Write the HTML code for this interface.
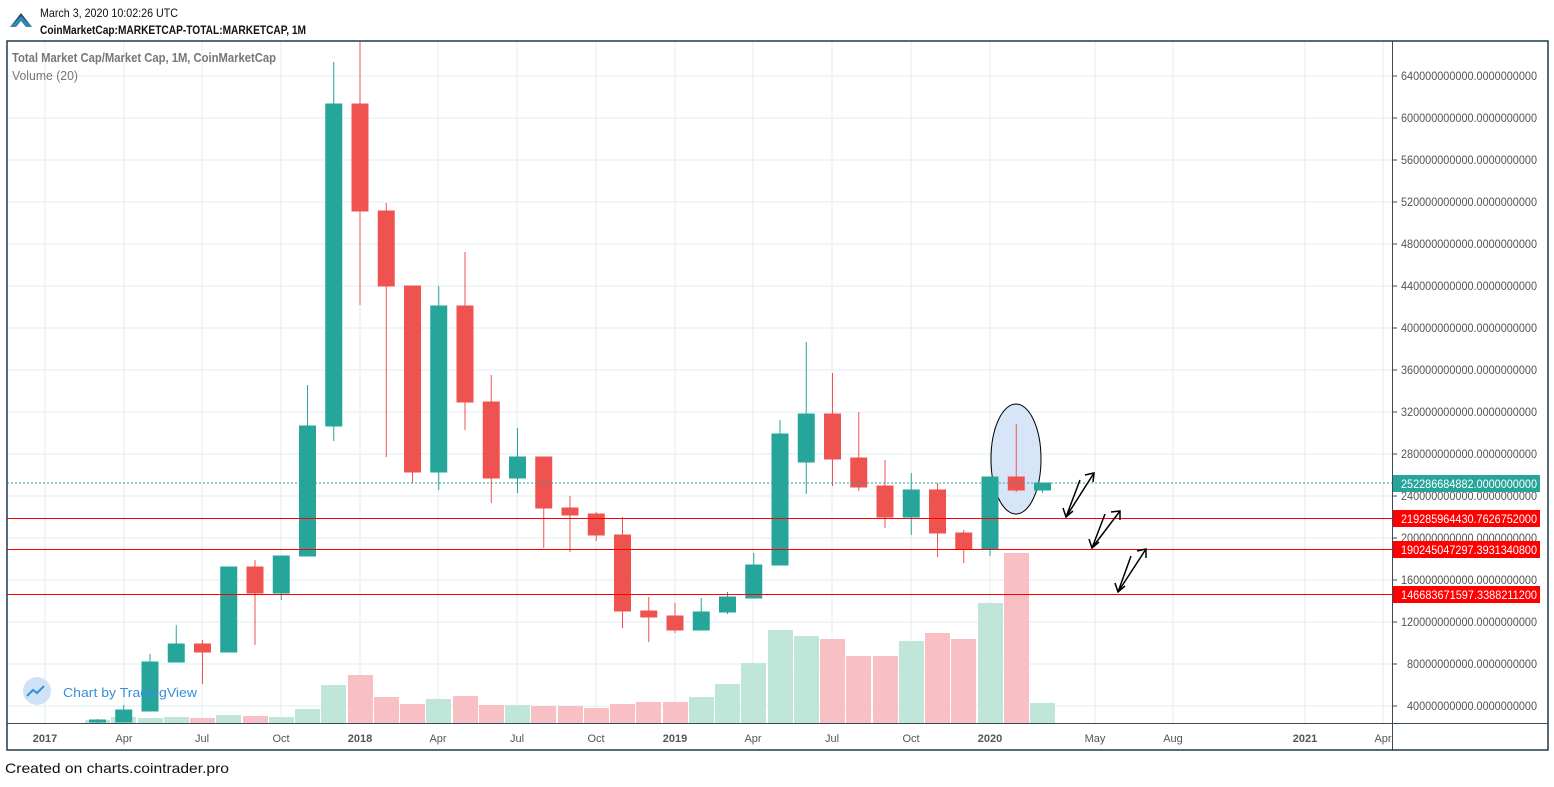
<!DOCTYPE html>
<html><head><meta charset="utf-8"><style>
html,body{margin:0;padding:0;background:#fff;}
body{width:1554px;height:782px;overflow:hidden;font-family:"Liberation Sans",sans-serif;}
</style></head><body>
<svg width="1554" height="782" xmlns="http://www.w3.org/2000/svg" font-family="Liberation Sans, sans-serif">
<rect width="1554" height="782" fill="#fff"/>
<polygon points="10,27 21,13 32,27 26,27 21,21 16,27" fill="#1e4e6e"/>
<polygon points="10,27 16,27 21,21 26,27 32,27 21,16" fill="#3aa0d0" opacity="0.7"/>
<text x="40" y="17" font-size="12" fill="#111" textLength="138" lengthAdjust="spacingAndGlyphs">March 3, 2020 10:02:26 UTC</text>
<text x="40" y="34" font-size="12" font-weight="bold" fill="#111" textLength="266" lengthAdjust="spacingAndGlyphs">CoinMarketCap:MARKETCAP-TOTAL:MARKETCAP, 1M</text>
<g stroke="#e1ecf2" stroke-width="1">
<line x1="45" y1="41" x2="45" y2="723"/><line x1="124" y1="41" x2="124" y2="723"/><line x1="202" y1="41" x2="202" y2="723"/><line x1="281" y1="41" x2="281" y2="723"/><line x1="360" y1="41" x2="360" y2="723"/><line x1="438" y1="41" x2="438" y2="723"/><line x1="517" y1="41" x2="517" y2="723"/><line x1="596" y1="41" x2="596" y2="723"/><line x1="675" y1="41" x2="675" y2="723"/><line x1="753" y1="41" x2="753" y2="723"/><line x1="832" y1="41" x2="832" y2="723"/><line x1="911" y1="41" x2="911" y2="723"/><line x1="990" y1="41" x2="990" y2="723"/><line x1="1095" y1="41" x2="1095" y2="723"/><line x1="1173" y1="41" x2="1173" y2="723"/><line x1="1305" y1="41" x2="1305" y2="723"/><line x1="1383" y1="41" x2="1383" y2="723"/>
<line x1="7" y1="76" x2="1392" y2="76"/><line x1="7" y1="118" x2="1392" y2="118"/><line x1="7" y1="160" x2="1392" y2="160"/><line x1="7" y1="202" x2="1392" y2="202"/><line x1="7" y1="244" x2="1392" y2="244"/><line x1="7" y1="286" x2="1392" y2="286"/><line x1="7" y1="328" x2="1392" y2="328"/><line x1="7" y1="370" x2="1392" y2="370"/><line x1="7" y1="412" x2="1392" y2="412"/><line x1="7" y1="454" x2="1392" y2="454"/><line x1="7" y1="496" x2="1392" y2="496"/><line x1="7" y1="538" x2="1392" y2="538"/><line x1="7" y1="580" x2="1392" y2="580"/><line x1="7" y1="622" x2="1392" y2="622"/><line x1="7" y1="664" x2="1392" y2="664"/><line x1="7" y1="706" x2="1392" y2="706"/>
</g>
<g>
<g fill="#bfe6d8">
<rect x="85" y="720" width="25" height="3"/><rect x="111" y="717" width="25" height="6"/><rect x="138" y="718" width="25" height="5"/><rect x="164" y="717" width="25" height="6"/><rect x="216" y="715" width="25" height="8"/><rect x="269" y="717" width="25" height="6"/><rect x="295" y="709" width="25" height="14"/><rect x="321" y="685" width="25" height="38"/><rect x="426" y="699" width="25" height="24"/><rect x="505" y="705" width="25" height="18"/><rect x="689" y="697" width="25" height="26"/><rect x="715" y="684" width="25" height="39"/><rect x="741" y="663" width="25" height="60"/><rect x="768" y="630" width="25" height="93"/><rect x="794" y="636" width="25" height="87"/><rect x="899" y="641" width="25" height="82"/><rect x="978" y="603" width="25" height="120"/><rect x="1030" y="703" width="25" height="20"/>
</g>
<g fill="#f8c0c4">
<rect x="190" y="718" width="25" height="5"/><rect x="243" y="716" width="25" height="7"/><rect x="348" y="675" width="25" height="48"/><rect x="374" y="697" width="25" height="26"/><rect x="400" y="704" width="25" height="19"/><rect x="453" y="696" width="25" height="27"/><rect x="479" y="705" width="25" height="18"/><rect x="531" y="706" width="25" height="17"/><rect x="558" y="706" width="25" height="17"/><rect x="584" y="708" width="25" height="15"/><rect x="610" y="704" width="25" height="19"/><rect x="636" y="702" width="25" height="21"/><rect x="663" y="702" width="25" height="21"/><rect x="820" y="639" width="25" height="84"/><rect x="846" y="656" width="25" height="67"/><rect x="873" y="656" width="25" height="67"/><rect x="925" y="633" width="25" height="90"/><rect x="951" y="639" width="25" height="84"/><rect x="1004" y="553" width="25" height="170"/>
</g>
</g>
<ellipse cx="1016" cy="459" rx="25" ry="55" fill="#d6e6f8" stroke="#000" stroke-width="1"/>
<g stroke-width="1">
<g stroke="#26a69a" fill="#26a69a">
<line x1="97.5" y1="719" x2="97.5" y2="723"/><rect x="89.5" y="720" width="16" height="2"/>
<line x1="123.75" y1="705" x2="123.75" y2="722"/><rect x="115.75" y="710" width="16" height="12"/>
<line x1="150" y1="654" x2="150" y2="711"/><rect x="142" y="662" width="16" height="49"/>
<line x1="176.25" y1="625" x2="176.25" y2="662"/><rect x="168.25" y="644" width="16" height="18"/>
<line x1="228.75" y1="567" x2="228.75" y2="652"/><rect x="220.75" y="567" width="16" height="85"/>
<line x1="281.25" y1="556" x2="281.25" y2="600"/><rect x="273.25" y="556" width="16" height="37"/>
<line x1="307.5" y1="385" x2="307.5" y2="556"/><rect x="299.5" y="426" width="16" height="130"/>
<line x1="333.75" y1="62" x2="333.75" y2="441"/><rect x="325.75" y="104" width="16" height="322"/>
<line x1="438.75" y1="286" x2="438.75" y2="490"/><rect x="430.75" y="306" width="16" height="166"/>
<line x1="517.5" y1="428" x2="517.5" y2="493"/><rect x="509.5" y="457" width="16" height="21"/>
<line x1="701.25" y1="598" x2="701.25" y2="630"/><rect x="693.25" y="612" width="16" height="18"/>
<line x1="727.5" y1="592" x2="727.5" y2="614"/><rect x="719.5" y="597" width="16" height="15"/>
<line x1="753.75" y1="553" x2="753.75" y2="598"/><rect x="745.75" y="565" width="16" height="33"/>
<line x1="780" y1="420" x2="780" y2="565"/><rect x="772" y="434" width="16" height="131"/>
<line x1="806.25" y1="342" x2="806.25" y2="494"/><rect x="798.25" y="414" width="16" height="48"/>
<line x1="911.25" y1="473" x2="911.25" y2="535"/><rect x="903.25" y="490" width="16" height="27"/>
<line x1="990" y1="477" x2="990" y2="556"/><rect x="982" y="477" width="16" height="72"/>
<line x1="1042.5" y1="483" x2="1042.5" y2="493"/><rect x="1034.5" y="483" width="16" height="7"/>
</g>
<g stroke="#ef5350" fill="#ef5350">
<line x1="202.5" y1="640" x2="202.5" y2="684"/><rect x="194.5" y="644" width="16" height="8"/>
<line x1="255" y1="560" x2="255" y2="645"/><rect x="247" y="567" width="16" height="26"/>
<line x1="360" y1="42" x2="360" y2="305"/><rect x="352" y="104" width="16" height="107"/>
<line x1="386.25" y1="203" x2="386.25" y2="457"/><rect x="378.25" y="211" width="16" height="75"/>
<line x1="412.5" y1="286" x2="412.5" y2="483"/><rect x="404.5" y="286" width="16" height="186"/>
<line x1="465" y1="252" x2="465" y2="430"/><rect x="457" y="306" width="16" height="96"/>
<line x1="491.25" y1="375" x2="491.25" y2="503"/><rect x="483.25" y="402" width="16" height="76"/>
<line x1="543.75" y1="457" x2="543.75" y2="548"/><rect x="535.75" y="457" width="16" height="51"/>
<line x1="570" y1="496" x2="570" y2="552"/><rect x="562" y="508" width="16" height="7"/>
<line x1="596.25" y1="512" x2="596.25" y2="541"/><rect x="588.25" y="514" width="16" height="21"/>
<line x1="622.5" y1="517" x2="622.5" y2="628"/><rect x="614.5" y="535" width="16" height="76"/>
<line x1="648.75" y1="597" x2="648.75" y2="642"/><rect x="640.75" y="611" width="16" height="6"/>
<line x1="675" y1="603" x2="675" y2="633"/><rect x="667" y="616" width="16" height="14"/>
<line x1="832.5" y1="373" x2="832.5" y2="486"/><rect x="824.5" y="414" width="16" height="45"/>
<line x1="858.75" y1="412" x2="858.75" y2="491"/><rect x="850.75" y="458" width="16" height="29"/>
<line x1="885" y1="460" x2="885" y2="528"/><rect x="877" y="486" width="16" height="31"/>
<line x1="937.5" y1="483" x2="937.5" y2="557"/><rect x="929.5" y="490" width="16" height="43"/>
<line x1="963.75" y1="530" x2="963.75" y2="563"/><rect x="955.75" y="533" width="16" height="16"/>
<line x1="1016.25" y1="424" x2="1016.25" y2="492"/><rect x="1008.25" y="477" width="16" height="13"/>
</g>
</g>
<line x1="7" y1="483" x2="1392" y2="483" stroke="#26a69a" stroke-dasharray="2,2"/>
<line x1="7" y1="518.5" x2="1392" y2="518.5" stroke="#ff0000"/>
<line x1="7" y1="549.5" x2="1392" y2="549.5" stroke="#ff0000"/>
<line x1="7" y1="594.5" x2="1392" y2="594.5" stroke="#ff0000"/>
<g stroke="#000" stroke-width="1.5" fill="none">
<polyline points="1080,480 1066,517 1094,473"/><polyline points="1085,475 1094,473 1093,482"/><polyline points="1063,508 1066,517 1073,511"/>
<polyline points="1105,514 1092,548 1120,511"/><polyline points="1111,512 1120,511 1120,520"/><polyline points="1089,539 1092,548 1099,542"/>
<polyline points="1131,556 1118,592 1146,549"/><polyline points="1137,551 1146,549 1146,558"/><polyline points="1115,583 1118,592 1125,586"/>
</g>
<text x="12" y="62" font-size="13" font-weight="bold" fill="#777" textLength="264" lengthAdjust="spacingAndGlyphs">Total Market Cap/Market Cap, 1M, CoinMarketCap</text>
<text x="12" y="80" font-size="13" fill="#777" textLength="66" lengthAdjust="spacingAndGlyphs">Volume (20)</text>
<circle cx="37" cy="691" r="14" fill="#cfe3f6"/>
<path d="M27,696 l6,-6 l4,3 l7,-7" stroke="#3a8ddc" stroke-width="2" fill="none"/>
<text x="63" y="697" font-size="13" fill="#3a8ddc" textLength="134" lengthAdjust="spacingAndGlyphs">Chart by TradingView</text>
<line x1="1392.5" y1="41" x2="1392.5" y2="750" stroke="#3c4a55"/>
<line x1="7" y1="723.5" x2="1548" y2="723.5" stroke="#3c4a55"/>
<rect x="7" y="41" width="1541" height="709" fill="none" stroke="#1f3a4d" stroke-width="1.5"/>
<g font-size="12" fill="#555" lengthAdjust="spacingAndGlyphs">
<text x="1401" y="80" textLength="136" lengthAdjust="spacingAndGlyphs">640000000000.0000000000</text><text x="1401" y="122" textLength="136" lengthAdjust="spacingAndGlyphs">600000000000.0000000000</text><text x="1401" y="164" textLength="136" lengthAdjust="spacingAndGlyphs">560000000000.0000000000</text><text x="1401" y="206" textLength="136" lengthAdjust="spacingAndGlyphs">520000000000.0000000000</text><text x="1401" y="248" textLength="136" lengthAdjust="spacingAndGlyphs">480000000000.0000000000</text><text x="1401" y="290" textLength="136" lengthAdjust="spacingAndGlyphs">440000000000.0000000000</text><text x="1401" y="332" textLength="136" lengthAdjust="spacingAndGlyphs">400000000000.0000000000</text><text x="1401" y="374" textLength="136" lengthAdjust="spacingAndGlyphs">360000000000.0000000000</text><text x="1401" y="416" textLength="136" lengthAdjust="spacingAndGlyphs">320000000000.0000000000</text><text x="1401" y="458" textLength="136" lengthAdjust="spacingAndGlyphs">280000000000.0000000000</text><text x="1401" y="500" textLength="136" lengthAdjust="spacingAndGlyphs">240000000000.0000000000</text><text x="1401" y="542" textLength="136" lengthAdjust="spacingAndGlyphs">200000000000.0000000000</text><text x="1401" y="584" textLength="136" lengthAdjust="spacingAndGlyphs">160000000000.0000000000</text><text x="1401" y="626" textLength="136" lengthAdjust="spacingAndGlyphs">120000000000.0000000000</text><text x="1407" y="668" textLength="130" lengthAdjust="spacingAndGlyphs">80000000000.0000000000</text><text x="1407" y="710" textLength="130" lengthAdjust="spacingAndGlyphs">40000000000.0000000000</text>
</g>
<g stroke="#3c4a55"><line x1="1392" y1="76" x2="1397" y2="76"/><line x1="1392" y1="118" x2="1397" y2="118"/><line x1="1392" y1="160" x2="1397" y2="160"/><line x1="1392" y1="202" x2="1397" y2="202"/><line x1="1392" y1="244" x2="1397" y2="244"/><line x1="1392" y1="286" x2="1397" y2="286"/><line x1="1392" y1="328" x2="1397" y2="328"/><line x1="1392" y1="370" x2="1397" y2="370"/><line x1="1392" y1="412" x2="1397" y2="412"/><line x1="1392" y1="454" x2="1397" y2="454"/><line x1="1392" y1="496" x2="1397" y2="496"/><line x1="1392" y1="538" x2="1397" y2="538"/><line x1="1392" y1="580" x2="1397" y2="580"/><line x1="1392" y1="622" x2="1397" y2="622"/><line x1="1392" y1="664" x2="1397" y2="664"/><line x1="1392" y1="706" x2="1397" y2="706"/></g>
<rect x="1393" y="475" width="147" height="17" fill="#26a69a"/>
<text x="1401" y="488" font-size="12" fill="#fff" textLength="136" lengthAdjust="spacingAndGlyphs">252286684882.0000000000</text>
<rect x="1393" y="510" width="147" height="17" fill="#ff0000"/>
<text x="1401" y="523" font-size="12" fill="#fff" textLength="136" lengthAdjust="spacingAndGlyphs">219285964430.7626752000</text>
<rect x="1393" y="541" width="147" height="17" fill="#ff0000"/>
<text x="1401" y="554" font-size="12" fill="#fff" textLength="136" lengthAdjust="spacingAndGlyphs">190245047297.3931340800</text>
<rect x="1393" y="586" width="147" height="17" fill="#ff0000"/>
<text x="1401" y="599" font-size="12" fill="#fff" textLength="136" lengthAdjust="spacingAndGlyphs">146683671597.3388211200</text>
<g font-size="11" fill="#555" text-anchor="middle">
<text x="45" y="742" font-weight="bold">2017</text><text x="124" y="742">Apr</text><text x="202" y="742">Jul</text><text x="281" y="742">Oct</text><text x="360" y="742" font-weight="bold">2018</text><text x="438" y="742">Apr</text><text x="517" y="742">Jul</text><text x="596" y="742">Oct</text><text x="675" y="742" font-weight="bold">2019</text><text x="753" y="742">Apr</text><text x="832" y="742">Jul</text><text x="911" y="742">Oct</text><text x="990" y="742" font-weight="bold">2020</text><text x="1095" y="742">May</text><text x="1173" y="742">Aug</text><text x="1305" y="742" font-weight="bold">2021</text><text x="1383" y="742">Apr</text>
</g>
<text x="5" y="773" font-size="14" fill="#111" textLength="224" lengthAdjust="spacingAndGlyphs">Created on charts.cointrader.pro</text>
</svg>
</body></html>
